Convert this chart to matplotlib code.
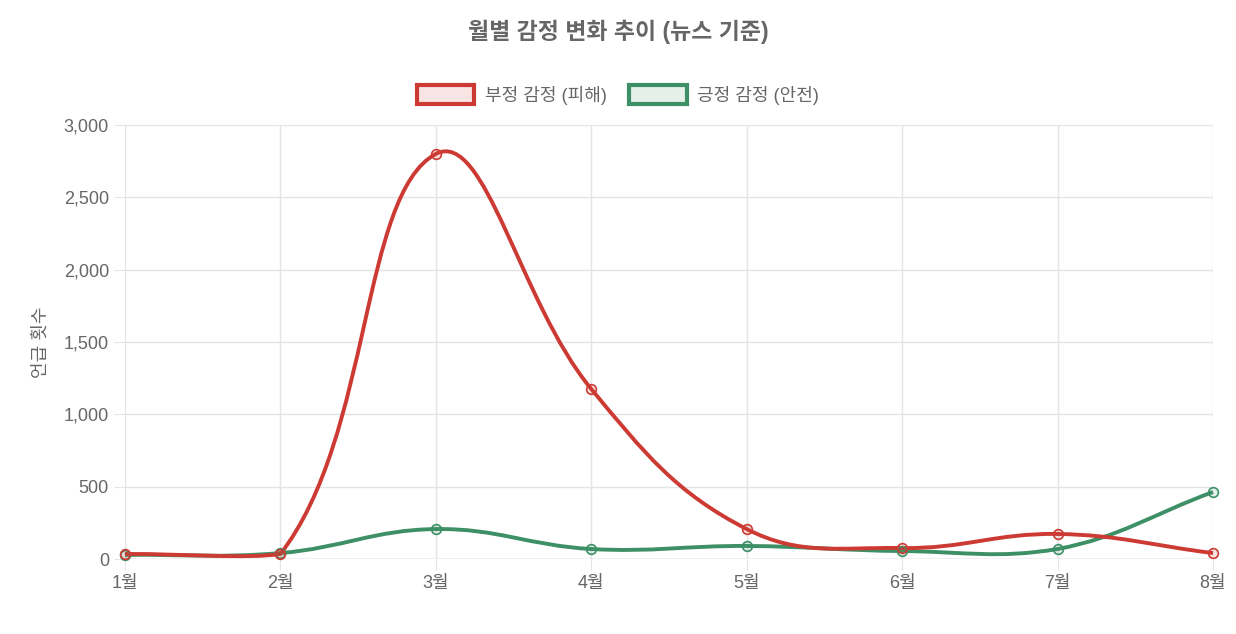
import numpy as np
import matplotlib
matplotlib.use("Agg")
import matplotlib.pyplot as plt
from matplotlib.path import Path
from matplotlib.patches import PathPatch, Patch

plt.rcParams['font.family'] = ['Liberation Sans', 'Noto Sans CJK KR', 'DejaVu Sans']

months = ['1월', '2월', '3월', '4월', '5월', '6월', '7월', '8월']
negative = [35, 35, 2800, 1175, 207, 76, 173, 41]
positive = [28, 41, 207, 69, 90, 55, 69, 463]
red = '#cc3a33'
green = '#3d8f65'

fig = plt.figure(figsize=(12.36, 6.34), dpi=100)
ax = fig.add_axes([125 / 1236, 1 - 559 / 634, 1088 / 1236, 434 / 634])
ax.set_xlim(0, 7)
ax.set_ylim(0, 3000)

sx, sy = 1088 / 7, 434 / 3000  # pixel scale for spline distances


def spline(xs, ys, t=0.4):
    px = np.array(xs, float) * sx
    py = np.array(ys, float) * sy
    n = len(px)
    c1, c2 = [], []
    for i in range(n):
        p0 = (px[max(i - 1, 0)], py[max(i - 1, 0)])
        p1 = (px[i], py[i])
        p2 = (px[min(i + 1, n - 1)], py[min(i + 1, n - 1)])
        d01 = np.hypot(p1[0] - p0[0], p1[1] - p0[1])
        d12 = np.hypot(p2[0] - p1[0], p2[1] - p1[1])
        s = d01 + d12
        fa = t * d01 / s if s else 0
        fb = t * d12 / s if s else 0
        c1.append((p1[0] - fa * (p2[0] - p0[0]), p1[1] - fa * (p2[1] - p0[1])))
        c2.append((p1[0] + fb * (p2[0] - p0[0]), p1[1] + fb * (p2[1] - p0[1])))
    # cap control points to chart area like Chart.js
    top = 3000 * sy
    c1 = [(a, min(max(b, 0), top)) for a, b in c1]
    c2 = [(a, min(max(b, 0), top)) for a, b in c2]
    verts = [(px[0], py[0])]
    codes = [Path.MOVETO]
    for i in range(n - 1):
        verts += [c2[i], c1[i + 1], (px[i + 1], py[i + 1])]
        codes += [Path.CURVE4] * 3
    verts = [(x / sx, y / sy) for x, y in verts]
    return Path(verts, codes)


x = np.arange(len(months))
for vals, col in [(positive, green), (negative, red)]:
    ax.add_patch(PathPatch(spline(x, vals), fill=False, edgecolor=col, lw=2.8, clip_on=False))
    ax.plot(x, vals, 'o', ms=7, mfc=col + '22', mec=col, mew=1.2, clip_on=False, zorder=5)

ax.set_xticks(x, months)
ax.set_yticks(range(0, 3001, 500), [f'{v:,}' for v in range(0, 3001, 500)])
ax.grid(color='#e4e4e4', lw=1)
ax.set_axisbelow(True)
for s in ax.spines.values():
    s.set_visible(False)
ax.axhline(0, color='#cccccc', lw=1)
ax.tick_params(colors='#666666', labelsize=13, length=8, color='#e4e4e4')
ax.set_ylabel('언급 횟수', color='#666666', fontsize=13, labelpad=10)

fig.text(0.5, 1 - 32 / 634, '월별 감정 변화 추이 (뉴스 기준)', ha='center', va='center',
         fontsize=16.5, fontweight='bold', color='#666666')
handles = [Patch(facecolor=red + '22', edgecolor=red, lw=3, label='부정 감정 (피해)'),
           Patch(facecolor=green + '22', edgecolor=green, lw=3, label='긍정 감정 (안전)')]
fig.legend(handles=handles, loc='center', bbox_to_anchor=(0.5, 1 - 95 / 634), ncol=2,
           frameon=False, fontsize=13, labelcolor='#666666', handlelength=3.2,
           handleheight=1.2, columnspacing=1.2, handletextpad=0.6)

fig.savefig('out.png', dpi=100)
